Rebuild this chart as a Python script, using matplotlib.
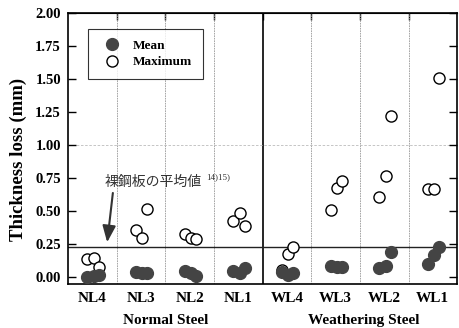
import numpy as np
import matplotlib.pyplot as plt

plt.rcParams['font.family'] = ['Liberation Serif', 'DejaVu Serif']

categories = ['NL4', 'NL3', 'NL2', 'NL1', 'WL4', 'WL3', 'WL2', 'WL1']
mean_vals = [
    [0.00, 0.01, 0.015],
    [0.04, 0.03, 0.03],
    [0.05, 0.03, 0.01],
    [0.05, 0.03, 0.07],
    [0.04, 0.02, 0.03],
    [0.085, 0.08, 0.08],
    [0.075, 0.085, 0.19],
    [0.10, 0.17, 0.23],
]
max_vals = [
    [0.14, 0.15, 0.08],
    [0.36, 0.30, 0.52],
    [0.33, 0.30, 0.29],
    [0.43, 0.49, 0.39],
    [0.06, 0.18, 0.23],
    [0.51, 0.68, 0.73],
    [0.61, 0.77, 1.22],
    [0.67, 0.67, 1.51],
]
bare_steel_avg = 0.23
offsets = [-0.1, 0.03, 0.13]

fig = plt.figure(figsize=(4.59, 3.28), dpi=100)
ax = fig.add_axes([0.148, 0.134, 0.848, 0.826])

for i in range(len(categories)):
    xs = [i + 0.5 + o for o in offsets]
    ax.plot(xs, max_vals[i], 'o', mfc='white', mec='black', mew=1.0, ms=8, zorder=3)
    ax.plot(xs, mean_vals[i], 'o', mfc='#444444', mec='#444444', ms=8.5, zorder=3)

for b in range(1, 8):
    if b == 4:
        ax.axvline(b, color='black', lw=1.2, zorder=1)
    else:
        ax.axvline(b, color='#999999', lw=0.6, ls=(0, (2, 1)), zorder=1)
ax.axhline(1.0, color='#bbbbbb', lw=0.6, ls=(0, (3, 2)), zorder=1)
ax.axhline(bare_steel_avg, color='#222222', lw=1.0, zorder=2)

ax.set_xlim(0, 8)
ax.set_ylim(-0.05, 2.0)
ax.set_yticks(np.arange(0, 2.01, 0.25))
ax.set_yticklabels(['%.2f' % v for v in np.arange(0, 2.01, 0.25)], fontweight='bold', fontsize=10.5)
ax.set_xticks(np.arange(8) + 0.5)
ax.set_xticklabels(categories, fontweight='bold', fontsize=11)
ax.tick_params(axis='x', length=0, pad=6)
ax.tick_params(axis='y', direction='in', right=True, length=6, width=1, pad=5)
for s in ax.spines.values():
    s.set_linewidth(1.2)

sec = ax.secondary_xaxis('top')
sec.set_xticks(range(1, 8))
sec.set_xticklabels([])
sec.tick_params(direction='in', length=5, width=1)

ax.set_ylabel('Thickness loss (mm)', fontweight='bold', fontsize=13.5)
ax.yaxis.set_label_coords(-0.105, 0.46)

fig.text(0.36, 0.012, 'Normal Steel', ha='center', fontweight='bold', fontsize=11)
fig.text(0.793, 0.012, 'Weathering Steel', ha='center', fontweight='bold', fontsize=11)

h1, = ax.plot([], [], 'o', mfc='#444444', mec='#444444', ms=8.5, label='Mean')
h2, = ax.plot([], [], 'o', mfc='white', mec='black', mew=1.0, ms=8, label='Maximum')
leg = ax.legend(handles=[h1, h2], loc='upper left', bbox_to_anchor=(0.035, 0.965),
                prop={'weight': 'bold', 'size': 9.5}, fancybox=False, edgecolor='black',
                handletextpad=0.6, borderpad=0.8, labelspacing=0.3)
leg.get_frame().set_linewidth(0.8)

ax.annotate('', xy=(0.8, 0.245), xytext=(0.93, 0.66),
            arrowprops=dict(arrowstyle='-|>,head_width=0.4,head_length=1.0',
                            color='#333333', lw=1.5))
ax.text(0.75, 0.72, '裸鋼板の平均値', family=['Noto Sans CJK JP', 'DejaVu Sans'],
        fontsize=10, color='#333333', va='center')
ax.text(2.85, 0.755, '14)15)', fontsize=6.5, color='#333333', va='center')

fig.savefig('out.png', dpi=100, facecolor='white')
